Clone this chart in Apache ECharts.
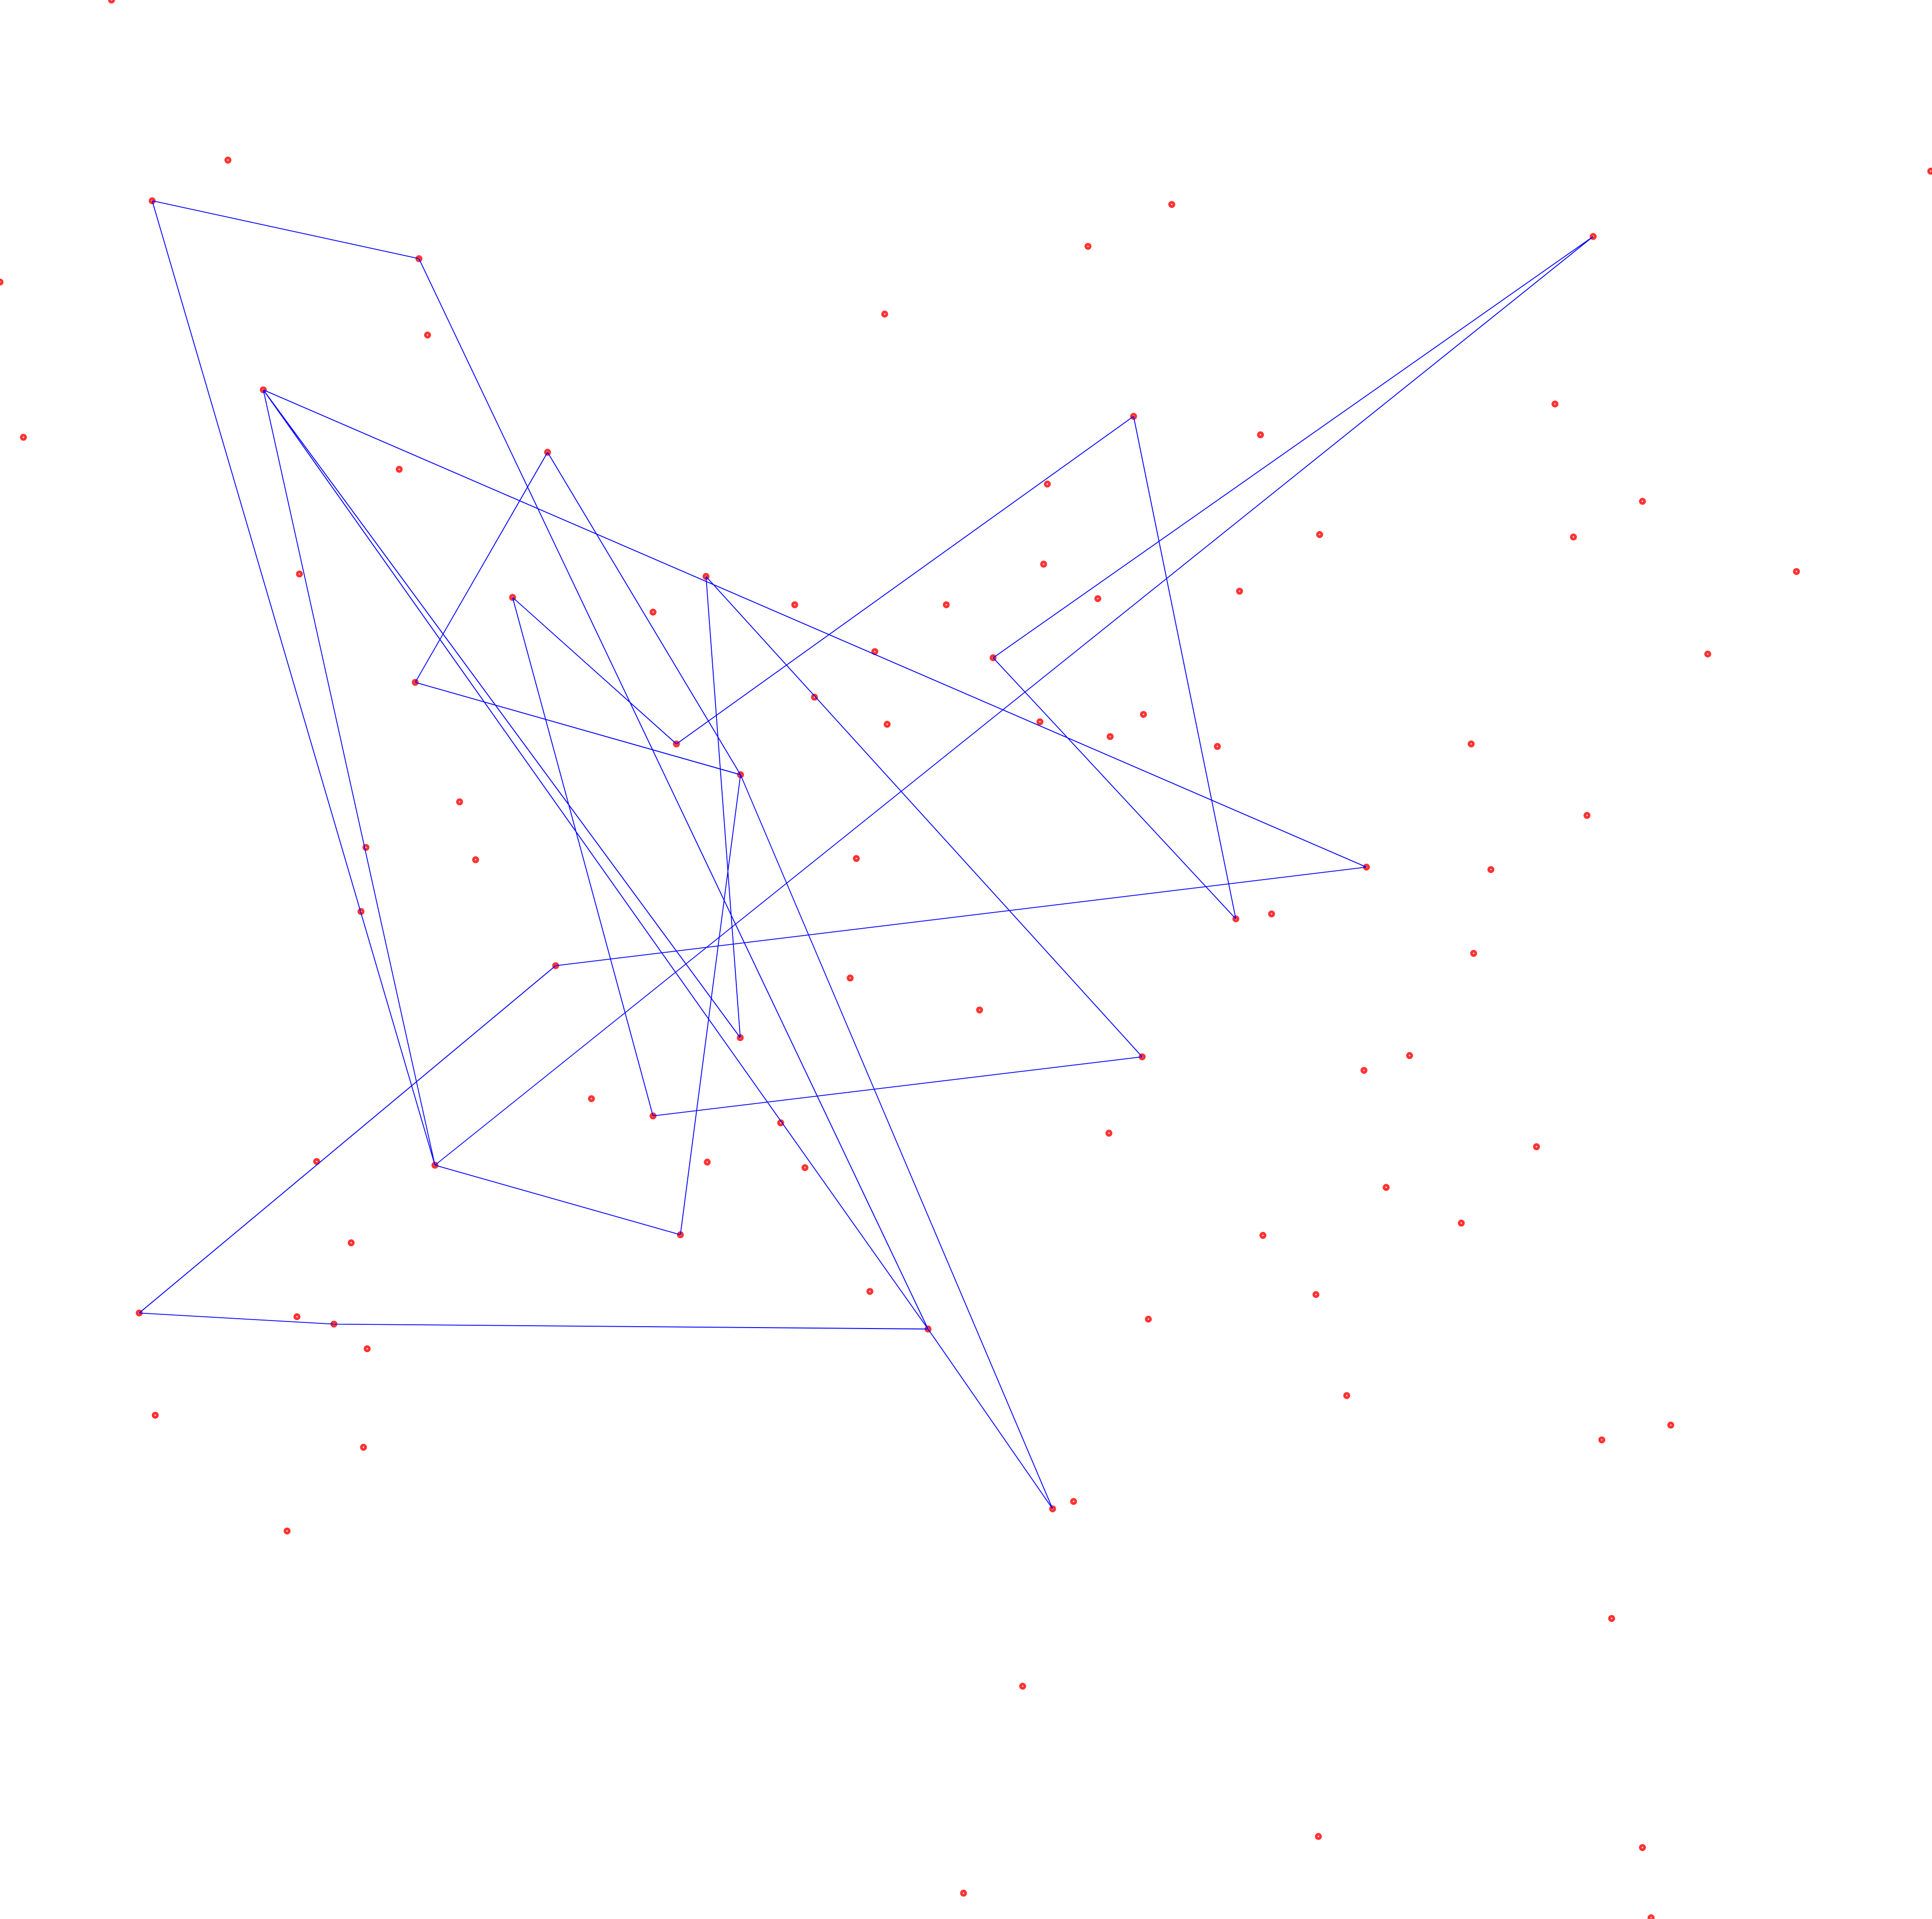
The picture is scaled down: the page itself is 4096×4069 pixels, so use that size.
<!DOCTYPE html>
<html>
<head>
<meta charset="utf-8">
<script src="https://cdn.jsdelivr.net/npm/echarts@6/dist/echarts.min.js"></script>
<style>
html,body{margin:0;padding:0;background:#fff;}
#chart{width:4096px;height:4069px;}
</style>
</head>
<body>
<div id="chart"></div>
<script>
// Axis extents (arbitrary units, no visible axes)
const xRange = [0, 1568];
const yRange = [0, 1558];

// Scattered points (red rings)
const scatterPoints = [
  [90.5,0],[185,130],[123.5,163],[340,210],[951,166],[883,200],[1293,192],[1567,139],
  [0,229],[718,255],[347,272],[213.7,316.5],[19,355],[324,381],[444.4,367.2],[920,338],
  [1023,353],[1262,328],[850,393],[1333,407],[1071,434],[1277,436],[1458,464],[243,466],
  [573,468],[416,485],[530,497],[645,491],[768,491],[847,458],[891,486],[1006,480],
  [710,529],[806,534],[1386,531],[337,554],[661,566],[720,588],[844,586],[928,580],
  [901,598],[988,606],[1194,604],[549,604],[601,629],[373,651],[1288,662],[297,688],
  [386,698],[695,697],[1109,704],[1210,706],[293,740],[1003,746],[1032,742],[1196,774],
  [451,784],[690,794],[795,820],[600.8,842.5],[927,858],[1144,857],[1107,869],[480,892],
  [530,906],[633.6,911.6],[900,920],[257,943],[353,946],[574,943.5],[653.3,948],[1247,931],
  [1125,964],[552.2,1002.5],[1186,993],[1025,1003],[285,1009],[706,1048.5],[1068,1051],[113,1066],
  [241,1069],[271,1075],[932,1071],[753.2,1079],[298,1095],[1093,1133],[126,1149],[1300,1169],
  [1356,1157],[295,1175],[871.3,1219],[854.3,1225],[233,1243],[1308,1314],[830,1369],[1070,1491],
  [1333,1500],[782,1537],[1340,1557]
];

// Connected path (blue line), visited in order
const pathPoints = [
  [123.5,163],[340,210],[753.2,1079],[854.3,1225],[601,629],[444.4,367.2],[337,554],[601,629],
  [552.2,1002.5],[353,946],[1293,192],[806,534],[1003,746],[920,338],[549,604],[416,485],
  [530,906],[927,858],[573,468],[600.8,842.5],[213.7,316.5],[1109,704],[451,784],[113,1066],
  [271,1075],[753.2,1079],[213.7,316.5],[353,946],[123.5,163]
];

const chart = echarts.init(document.getElementById('chart'), null, {renderer:'canvas'});
chart.setOption({
  animation: false,
  backgroundColor: '#ffffff',
  grid: {left: 0, right: 0, top: 0, bottom: 0, containLabel: false},
  xAxis: {type: 'value', min: xRange[0], max: xRange[1], show: false},
  yAxis: {type: 'value', min: yRange[0], max: yRange[1], inverse: true, show: false},
  series: [
    {
      type: 'scatter',
      data: scatterPoints,
      symbol: 'circle',
      symbolSize: 8.8,
      clip: false,
      itemStyle: {color: 'rgba(255,255,255,0)', borderColor: '#ff0000', borderWidth: 6},
      z: 2
    },
    {
      type: 'line',
      data: pathPoints,
      showSymbol: false,
      symbol: 'none',
      clip: false,
      lineStyle: {color: '#0000ff', width: 1.85},
      z: 3
    }
  ]
});
</script>
</body>
</html>
